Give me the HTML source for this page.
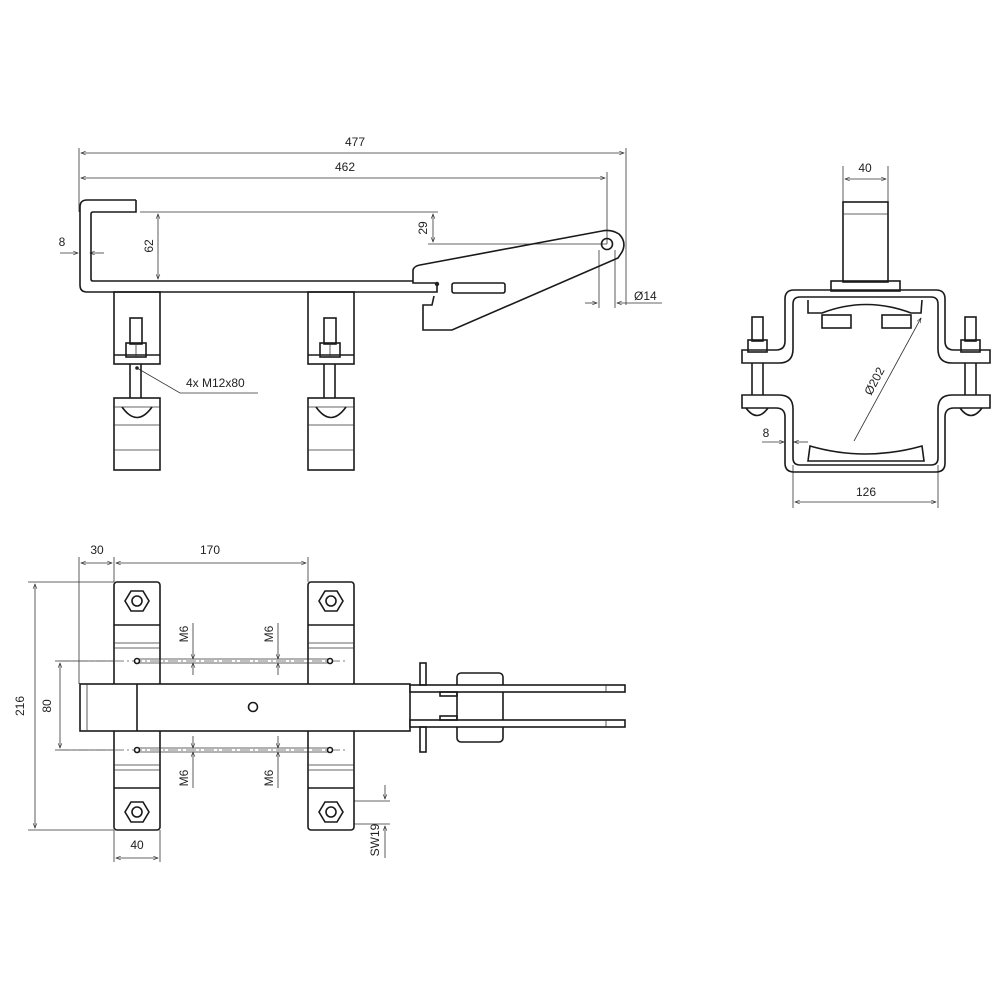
<!DOCTYPE html>
<html><head><meta charset="utf-8"><style>
html,body{margin:0;padding:0;background:#fff}
svg{display:block}
text{font-family:"Liberation Sans Narrow","Liberation Sans",sans-serif;font-size:12px;fill:#222}
.o{fill:none;stroke:#1a1a1a;stroke-width:1.6}
.t{fill:none;stroke:#333;stroke-width:0.8}
.w{fill:#fff;stroke:#1a1a1a;stroke-width:1.6}
.c{fill:none;stroke:#555;stroke-width:0.8;stroke-dasharray:10 3 2 3}
</style></head><body>
<svg width="1000" height="1000" viewBox="0 0 1000 1000" xmlns="http://www.w3.org/2000/svg">
<defs>
<marker id="a" viewBox="0 0 10 10" refX="10" refY="5" markerWidth="8" markerHeight="6" orient="auto-start-reverse"><path d="M0,1 L10,5 L0,9" fill="none" stroke="#222" stroke-width="1.2"/></marker>
</defs>

<!-- ===== TOP LEFT VIEW ===== -->
<g class="t">
<line x1="79" y1="148" x2="79" y2="212"/>
<line x1="626" y1="148" x2="626" y2="305"/>
<line x1="607" y1="172" x2="607" y2="244"/>
<line x1="81" y1="153" x2="624" y2="153" marker-start="url(#a)" marker-end="url(#a)"/>
<line x1="81" y1="178" x2="605" y2="178" marker-start="url(#a)" marker-end="url(#a)"/>
<line x1="140" y1="212" x2="438" y2="212"/>
<line x1="158" y1="214" x2="158" y2="279" marker-start="url(#a)" marker-end="url(#a)"/>
<line x1="433" y1="214" x2="433" y2="242" marker-start="url(#a)" marker-end="url(#a)"/>
<line x1="428" y1="244" x2="607" y2="244"/>
<line x1="599" y1="250" x2="599" y2="308"/>
<line x1="615" y1="250" x2="615" y2="308"/>
<line x1="585" y1="303" x2="597" y2="303" marker-end="url(#a)"/>
<line x1="662" y1="303" x2="617" y2="303" marker-end="url(#a)"/>
<line x1="60" y1="253" x2="78" y2="253" marker-end="url(#a)"/>
<line x1="104" y1="253" x2="90" y2="253" marker-end="url(#a)"/>
<polyline points="137,368 180,393 258,393"/>
</g>
<circle cx="137" cy="368" r="1.8" fill="#222"/>
<text x="355" y="146" text-anchor="middle">477</text>
<text x="345" y="171" text-anchor="middle">462</text>
<text x="62" y="246" text-anchor="middle">8</text>
<text transform="translate(153,246) rotate(-90)" text-anchor="middle">62</text>
<text transform="translate(427,228) rotate(-90)" text-anchor="middle">29</text>
<text x="634" y="300">Ø14</text>
<text x="186" y="387">4x M12x80</text>

<path class="o" d="M136,200 L87,200 Q80,200 80,207 L80,285 Q80,292 87,292 L437,292 L437,283 L413,283 L413,270 Q414,266 420,265 L602,231 Q611,229 619,234 Q627,242 622,252 L618,258 L452,330 L423,330 L423,305 L432,305 L434,296"/>
<path class="o" d="M136,200 L136,212 L93,212 Q91,212 91,214 L91,279 Q91,281 93,281 L413,281"/>
<circle class="o" cx="607" cy="244" r="5.5"/>
<circle cx="437" cy="284" r="2.2" fill="#222"/>
<rect class="o" x="452" y="283" width="53" height="10" rx="2"/>

<!-- brackets side -->
<g id="br1">
<rect class="o" x="114" y="292" width="46" height="72"/>
<line class="o" x1="114" y1="355" x2="160" y2="355"/>
<rect class="o" x="130" y="318" width="12" height="26"/>
<rect class="o" x="126" y="343" width="20" height="14"/>
<line class="t" x1="136" y1="343" x2="136" y2="357"/>
<line class="o" x1="130" y1="364" x2="130" y2="398"/>
<line class="o" x1="141" y1="364" x2="141" y2="398"/>
<rect class="o" x="114" y="398" width="46" height="72"/>
<line class="t" x1="114" y1="407" x2="160" y2="407"/>
<path class="o" d="M122,407 Q137,428 152,407"/>
<line class="t" x1="114" y1="425" x2="160" y2="425"/>
<line class="t" x1="114" y1="450" x2="160" y2="450"/>
</g>
<use href="#br1" transform="translate(194,0)"/>

<!-- ===== RIGHT VIEW ===== -->
<g class="t">
<line x1="843" y1="166" x2="843" y2="202"/>
<line x1="888" y1="166" x2="888" y2="202"/>
<line x1="845" y1="179" x2="886" y2="179" marker-start="url(#a)" marker-end="url(#a)"/>
<line x1="793" y1="465" x2="793" y2="508"/>
<line x1="938" y1="465" x2="938" y2="508"/>
<line x1="795" y1="502" x2="936" y2="502" marker-start="url(#a)" marker-end="url(#a)"/>
<line x1="762" y1="442" x2="784" y2="442" marker-end="url(#a)"/>
<line x1="808" y1="442" x2="794" y2="442" marker-end="url(#a)"/>
<line x1="854" y1="441" x2="921" y2="318" marker-end="url(#a)"/>
</g>
<text x="865" y="172" text-anchor="middle">40</text>
<text x="866" y="496" text-anchor="middle">126</text>
<text x="766" y="437" text-anchor="middle">8</text>
<text transform="translate(878,383) rotate(-62)" text-anchor="middle">Ø202</text>

<rect class="o" x="843" y="202" width="45" height="80"/>
<line class="t" x1="843" y1="214" x2="888" y2="214"/>
<rect class="o" x="831" y="281" width="69" height="10"/>
<!-- upper clamp -->
<path class="o" d="M742,350 L776,350 Q785,350 785,341 L785,299 Q785,290 794,290 L936,290 Q945,290 945,299 L945,341 Q945,350 954,350 L990,350 L990,363 L952,363 Q938,363 938,349 L938,304 Q938,297 931,297 L800,297 Q793,297 793,304 L793,349 Q793,363 779,363 L742,363 Z"/>
<!-- lower clamp -->
<path class="o" d="M742,395 L779,395 Q793,395 793,409 L793,458 Q793,465 800,465 L931,465 Q938,465 938,458 L938,409 Q938,395 952,395 L990,395 L990,408 L954,408 Q945,408 945,417 L945,463 Q945,472 936,472 L794,472 Q785,472 785,463 L785,417 Q785,408 776,408 L742,408 Z"/>
<!-- bolts -->
<rect class="o" x="752" y="317" width="11" height="24"/>
<rect class="o" x="748" y="340" width="19" height="12"/>
<line class="o" x1="752" y1="363" x2="752" y2="395"/><line class="o" x1="763" y1="363" x2="763" y2="395"/>
<path class="o" d="M746,408 Q757,423 768,408"/>
<rect class="o" x="965" y="317" width="11" height="24"/>
<rect class="o" x="961" y="340" width="19" height="12"/>
<line class="o" x1="965" y1="363" x2="965" y2="395"/><line class="o" x1="976" y1="363" x2="976" y2="395"/>
<path class="o" d="M960,408 Q971,423 982,408"/>
<!-- pads -->
<path class="o" d="M808,300 L808,313 L822,313 Q866,296 911,313 L921,313 L922,300"/>
<rect class="o" x="822" y="315" width="29" height="13"/>
<rect class="o" x="882" y="315" width="29" height="13"/>
<path class="o" d="M810,446 Q865,462 922,446 L924,461 L808,461 Z"/>

<!-- ===== BOTTOM VIEW ===== -->
<g class="t">
<line x1="79" y1="557" x2="79" y2="684"/>
<line x1="114" y1="557" x2="114" y2="582"/>
<line x1="308" y1="557" x2="308" y2="582"/>
<line x1="81" y1="563" x2="112" y2="563" marker-start="url(#a)" marker-end="url(#a)"/>
<line x1="116" y1="563" x2="306" y2="563" marker-start="url(#a)" marker-end="url(#a)"/>
<line x1="28" y1="582" x2="114" y2="582"/>
<line x1="28" y1="830" x2="114" y2="830"/>
<line x1="35" y1="584" x2="35" y2="828" marker-start="url(#a)" marker-end="url(#a)"/>
<line x1="55" y1="661" x2="114" y2="661"/>
<line x1="55" y1="750" x2="114" y2="750"/>
<line x1="60" y1="663" x2="60" y2="748" marker-start="url(#a)" marker-end="url(#a)"/>
<line x1="114" y1="830" x2="114" y2="862"/>
<line x1="160" y1="830" x2="160" y2="862"/>
<line x1="116" y1="858" x2="158" y2="858" marker-start="url(#a)" marker-end="url(#a)"/>
<line x1="354" y1="801" x2="390" y2="801"/>
<line x1="354" y1="824" x2="390" y2="824"/>
<line x1="385" y1="785" x2="385" y2="799" marker-end="url(#a)"/>
<line x1="385" y1="858" x2="385" y2="826" marker-end="url(#a)"/>
<line x1="193" y1="623" x2="193" y2="659" marker-end="url(#a)"/><line x1="193" y1="675" x2="193" y2="663" marker-end="url(#a)"/>
<line x1="278" y1="623" x2="278" y2="659" marker-end="url(#a)"/><line x1="278" y1="675" x2="278" y2="663" marker-end="url(#a)"/>
<line x1="193" y1="736" x2="193" y2="748" marker-end="url(#a)"/><line x1="193" y1="788" x2="193" y2="752" marker-end="url(#a)"/>
<line x1="278" y1="736" x2="278" y2="748" marker-end="url(#a)"/><line x1="278" y1="788" x2="278" y2="752" marker-end="url(#a)"/>
</g>
<text x="97" y="554" text-anchor="middle">30</text>
<text x="210" y="554" text-anchor="middle">170</text>
<text transform="translate(24,706) rotate(-90)" text-anchor="middle">216</text>
<text transform="translate(51,706) rotate(-90)" text-anchor="middle">80</text>
<text x="137" y="849" text-anchor="middle">40</text>
<text transform="translate(188,634) rotate(-90)" text-anchor="middle">M6</text>
<text transform="translate(273,634) rotate(-90)" text-anchor="middle">M6</text>
<text transform="translate(188,778) rotate(-90)" text-anchor="middle">M6</text>
<text transform="translate(273,778) rotate(-90)" text-anchor="middle">M6</text>
<text transform="translate(379,840) rotate(-90)" text-anchor="middle">SW19</text>

<g id="pl">
<rect class="w" x="114" y="582" width="46" height="248" rx="3"/>
<line class="o" x1="114" y1="625" x2="160" y2="625"/>
<line class="t" x1="114" y1="643" x2="160" y2="643"/>
<line class="t" x1="114" y1="648" x2="160" y2="648"/>
<line class="t" x1="114" y1="765" x2="160" y2="765"/>
<line class="t" x1="114" y1="770" x2="160" y2="770"/>
<line class="o" x1="114" y1="788" x2="160" y2="788"/>
<polygon class="o" points="131,591 143,591 149,601 143,611 131,611 125,601"/>
<circle class="o" cx="137" cy="601" r="5"/>
<polygon class="o" points="131,802 143,802 149,812 143,822 131,822 125,812"/>
<circle class="o" cx="137" cy="812" r="5"/>
</g>
<use href="#pl" transform="translate(194,0)"/>

<line class="c" x1="60" y1="661" x2="348" y2="661"/>
<line class="c" x1="60" y1="750" x2="348" y2="750"/>
<g class="t">
<line x1="137" y1="659" x2="330" y2="659"/><line x1="137" y1="663" x2="330" y2="663"/>
<line x1="137" y1="748" x2="330" y2="748"/><line x1="137" y1="752" x2="330" y2="752"/>
</g>
<circle class="w" cx="137" cy="661" r="2.5"/><circle class="w" cx="330" cy="661" r="2.5"/>
<circle class="w" cx="137" cy="750" r="2.5"/><circle class="w" cx="330" cy="750" r="2.5"/>

<rect class="w" x="80" y="684" width="330" height="47"/>
<line class="o" x1="137" y1="684" x2="137" y2="731"/>
<line class="t" x1="87" y1="684" x2="87" y2="731"/>
<circle class="o" cx="253" cy="707" r="4.5"/>
<rect class="w" x="457" y="673" width="46" height="69" rx="4"/>
<rect class="w" x="410" y="685" width="215" height="7"/>
<rect class="w" x="410" y="720" width="215" height="7"/>
<line class="t" x1="606" y1="685" x2="606" y2="692"/>
<line class="t" x1="606" y1="720" x2="606" y2="727"/>
<rect class="o" x="420" y="663" width="6" height="22"/>
<rect class="o" x="420" y="727" width="6" height="25"/>
<rect class="o" x="440" y="692" width="17" height="4"/>
<rect class="o" x="440" y="716" width="17" height="4"/>
</svg>
</body></html>
